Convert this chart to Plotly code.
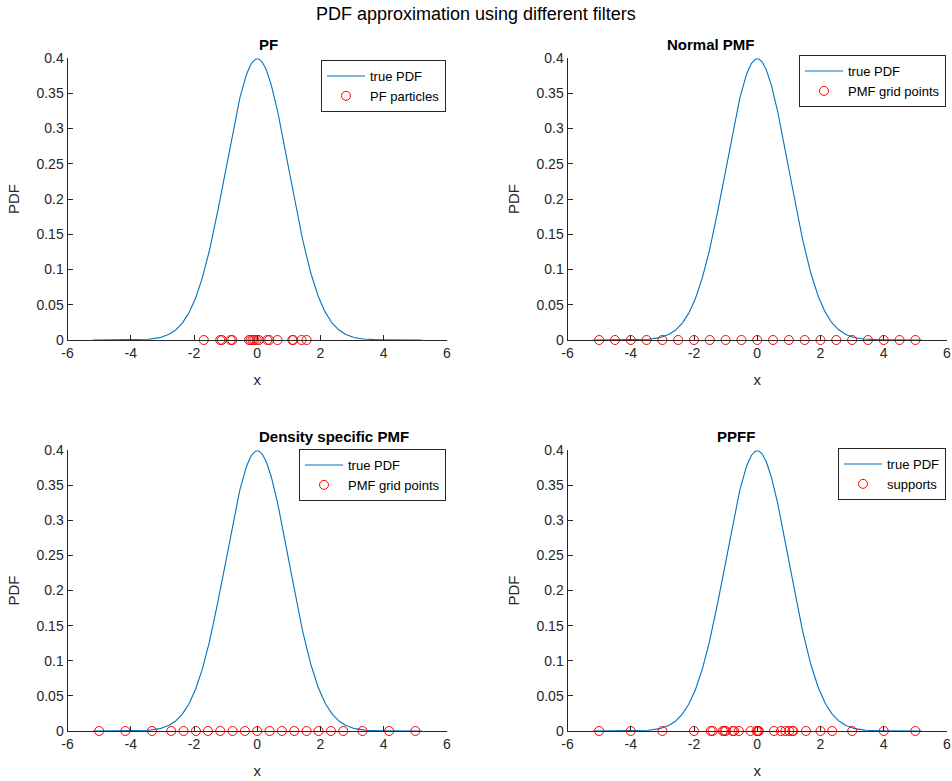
import numpy as np
import plotly.graph_objects as go

# ---- data ----
x_curve_min, x_curve_max = -5.2, 5.2
pf_particles = [-1.69, -1.17, -1.12, -0.84, -0.79, -0.26, -0.21, -0.15, -0.09, -0.02,
                0.05, 0.32, 0.38, 0.64, 1.11, 1.14, 1.40, 1.56]
normal_pmf_grid = [-5.0, -4.5, -4.0, -3.5, -3.0, -2.5, -2.0, -1.5, -1.0, -0.5, 0.0,
                   0.5, 1.0, 1.5, 2.0, 2.5, 3.0, 3.5, 4.0, 4.5, 5.0]
density_pmf_grid = [-5.0, -4.17, -3.33, -2.72, -2.33, -1.94, -1.56, -1.17, -0.78, -0.39, 0.0,
                    0.39, 0.78, 1.17, 1.56, 1.94, 2.33, 2.72, 3.33, 4.17, 5.0]
ppff_supports = [-5.0, -4.0, -3.0, -2.0, -1.47, -1.41, -1.09, -1.04, -1.0, -0.78, -0.73,
                 -0.58, -0.21, -0.02, 0.02, 0.05, 0.53, 0.75, 0.89, 1.01, 1.11, 1.14,
                 1.54, 2.0, 2.37, 3.0, 4.0, 5.0]

titles = ["PF", "Normal PMF", "Density specific PMF", "PPFF"]
marker_names = ["PF particles", "PMF grid points", "PMF grid points", "supports"]
marker_sets = [pf_particles, normal_pmf_grid, density_pmf_grid, ppff_supports]
x_ticks = [-6, -4, -2, 0, 2, 4, 6]
y_ticks = [0, 0.05, 0.1, 0.15, 0.2, 0.25, 0.3, 0.35, 0.4]
y_tick_text = ["0", "0.05", "0.1", "0.15", "0.2", "0.25", "0.3", "0.35", "0.4"]
x_tick_text = ["-6", "-4", "-2", "0", "2", "4", "6"]

xc = np.linspace(x_curve_min, x_curve_max, 400)
pdf = np.exp(-xc ** 2 / 2) / np.sqrt(2 * np.pi)

W, H = 952, 781
FONT = "Liberation Sans, Arial, sans-serif"
TXT = "#262626"

x_domains = [(67.5 / W, 447 / W), (567.5 / W, 947 / W)]
y_domains = [((H - 340) / H, (H - 58) / H), ((H - 731) / H, (H - 450) / H)]
legend_pos = [(446 / W, (H - 60) / H), (946 / W, (H - 55) / H),
              (446 / W, (H - 449) / H), (946 / W, (H - 448) / H)]

fig = go.Figure()
layout = dict(
    width=W, height=H, margin=dict(l=0, r=0, t=0, b=0, autoexpand=False),
    paper_bgcolor="white", plot_bgcolor="white",
    font=dict(family=FONT, color=TXT, size=13),
    showlegend=True,
)
annotations = [dict(text="PDF approximation using different filters", x=0.5, y=1 - 14 / H,
                    xref="paper", yref="paper", showarrow=False,
                    font=dict(size=18, color="black", family=FONT), yanchor="middle")]

for i in range(4):
    r, c = divmod(i, 2)
    ax = "" if i == 0 else str(i + 1)
    leg = "legend" if i == 0 else f"legend{i + 1}"
    fig.add_trace(go.Scatter(x=xc, y=pdf, mode="lines", name="true PDF",
                             line=dict(color="#0072BD", width=1.1),
                             xaxis="x" + ax, yaxis="y" + ax, legend=leg))
    fig.add_trace(go.Scatter(x=marker_sets[i], y=[0] * len(marker_sets[i]), mode="markers",
                             name=marker_names[i], cliponaxis=False,
                             marker=dict(symbol="circle-open", size=9, color="#FF0000",
                                         line=dict(width=1, color="#FF0000")),
                             xaxis="x" + ax, yaxis="y" + ax, legend=leg))
    layout["xaxis" + ax] = dict(
        domain=x_domains[c], range=[-6, 6], anchor="y" + ax, automargin=False,
        tickvals=x_ticks, ticktext=x_tick_text, ticks="inside", ticklen=5,
        tickcolor=TXT, showline=True, linecolor=TXT, linewidth=1, showgrid=False,
        zeroline=False, tickfont=dict(size=14, color=TXT),
        title=dict(text="x", font=dict(size=15, color=TXT), standoff=14),
    )
    layout["yaxis" + ax] = dict(
        domain=y_domains[r], range=[0, 0.4], anchor="x" + ax, automargin=False,
        tickvals=y_ticks, ticktext=y_tick_text, ticks="inside", ticklen=5,
        tickcolor=TXT, showline=True, linecolor=TXT, linewidth=1, showgrid=False,
        zeroline=False, tickfont=dict(size=14, color=TXT),
        title=dict(text="PDF", font=dict(size=15, color=TXT), standoff=13),
    )
    lx, ly = legend_pos[i]
    layout[leg] = dict(x=lx, y=ly, xanchor="right", yanchor="top",
                       bordercolor=TXT, borderwidth=1, bgcolor="white",
                       font=dict(size=13, color="black", family=FONT),
                       tracegroupgap=0, itemwidth=38)
    cx = (x_domains[c][0] + x_domains[c][1]) / 2
    ty = y_domains[r][1] + 13 / H
    annotations.append(dict(text="<b>" + titles[i] + "</b>", x=cx, y=ty, xref="paper",
                            yref="paper", showarrow=False, yanchor="middle",
                            font=dict(size=15, color="black", family=FONT)))

layout["annotations"] = annotations
fig.update_layout(**layout)
fig.write_html("out.html", config={"displayModeBar": False},
               post_script="document.body.style.margin='0';")
